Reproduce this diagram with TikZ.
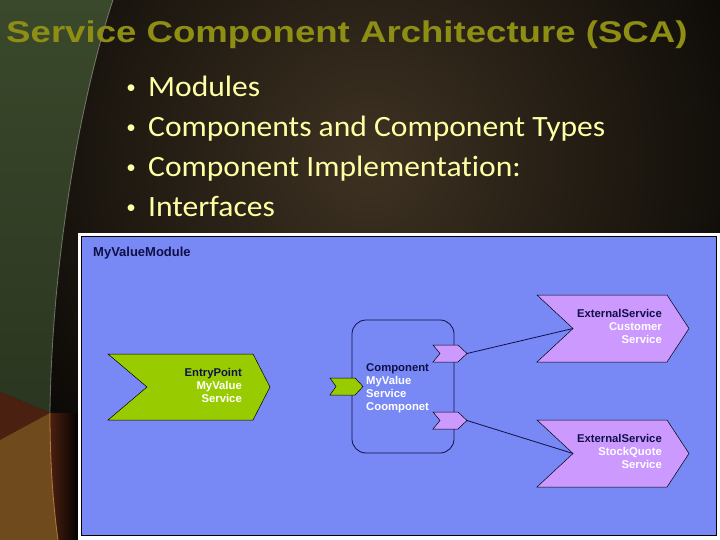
\documentclass[tikz,border=0pt]{standalone}
\usepackage{fontspec}
\setmainfont{Liberation Sans}
\newfontfamily\slidefont[Ligatures=NoCommon]{Carlito}
\usepackage{tikz}
\usepackage{xcolor}
\usetikzlibrary{positioning}

\definecolor{titleolive}{HTML}{8E8E14}
\definecolor{itemyellow}{HTML}{FFFFA3}
\definecolor{modblue}{HTML}{7888F4}
\definecolor{epgreen}{HTML}{99CC00}
\definecolor{refpurple}{HTML}{CC99FF}
\definecolor{navy}{HTML}{101048}
\definecolor{glowbrown}{HTML}{3E3222}
\definecolor{leftgreen}{HTML}{3A482B}
\definecolor{leftgreendark}{HTML}{2B3620}
\definecolor{rustbrown}{HTML}{4A2010}
\definecolor{ochre}{HTML}{6E4A1C}

% chevron: name, left x, top y, width, height, notch depth, tip depth, fill
\newcommand{\chevron}[8]{%
  \filldraw[fill=#8, draw=black, line width=0.5pt] (#2,#3) -- ++(#4-#7,0)
    -- ++(#7,#5/2) -- ++(-#7,#5/2) -- ++(#7-#4,0) -- ++(#6,-#5/2) -- cycle;
  \coordinate (#1-notch) at (#2+#6,#3+#5/2);
  \coordinate (#1-tip) at (#2+#4,#3+#5/2);}

\begin{document}
\begin{tikzpicture}[x=1pt, y=-1pt,
    slidetitle/.style={anchor=base west, inner sep=0pt, text=titleolive, font=\fontsize{30}{30}\selectfont\bfseries, xscale=1.22},
    itemdot/.style={anchor=base, inner sep=0pt, text=itemyellow, font=\slidefont\fontsize{19}{20}\selectfont},
    bulletitem/.style={anchor=base west, inner sep=0pt, text=itemyellow, font=\slidefont\fontsize{29.5}{30}\selectfont, xscale=1.07},
    modlabel/.style={anchor=base west, inner sep=0pt, text=navy, font=\fontsize{13}{15}\selectfont\bfseries},
    boxtext/.style={inner sep=0pt, text=navy, font=\fontsize{11.3}{13.3}\selectfont\bfseries},
    comp/.style={draw=navy, line width=0.8pt, rounded corners=14pt, minimum width=102pt, minimum height=133pt},
    conn/.style={draw=navy, line width=0.8pt}]

    \useasboundingbox (0,0) rectangle (720,540);
    \clip (0,0) rectangle (720,540);

    % slide background
    \fill[black] (0,0) rectangle (720,540);
    \shade[inner color=glowbrown, outer color=black] (370,160) circle (500);
    \shade[top color=leftgreen, bottom color=leftgreendark]
        (0,0) -- (113,0) .. controls (80,100) and (52,260) .. (50,413) -- (0,392) -- cycle;
    \fill[rustbrown] (0,392) -- (50,413) -- (0,440) -- cycle;
    \fill[ochre] (0,440) -- (50,413) .. controls (50,470) and (54,510) .. (58,540) -- (0,540) -- cycle;
    \shade[left color=rustbrown, right color=black]
        (50,413) .. controls (50,470) and (54,510) .. (58,540) -- (80,540) -- (80,413) -- cycle;
    \draw[white, opacity=0.35, line width=0.8pt]
        (113,0) .. controls (80,100) and (52,260) .. (50,413);
    \draw[orange!60!white, opacity=0.6, line width=0.8pt]
        (50,413) .. controls (50,470) and (54,510) .. (58,540);

    % title and bullets
    \node[slidetitle] (title) at (6,43) {Service Component Architecture (SCA)};

    \node[itemdot] (d1) at (131,94) {\textbullet};
    \node[itemdot] (d2) at (131,134) {\textbullet};
    \node[itemdot] (d3) at (131,174) {\textbullet};
    \node[itemdot] (d4) at (131,214) {\textbullet};
    \node[bulletitem] (i1) at (148,97) {Modules};
    \node[bulletitem] (i2) at (148,137) {Components and Component Types};
    \node[bulletitem] (i3) at (148,177) {Component Implementation:};
    \node[bulletitem] (i4) at (148,217) {Interfaces};

    % module
    \fill[white] (78,233) rectangle (722,542);
    \filldraw[fill=modblue, draw=black, line width=1.2pt] (81.5,236.5) rectangle (716.5,535.5);
    \node[modlabel] (module) at (93,256) {MyValueModule};

    \node[comp] (comp) at (403,386.5) {};

    \chevron{entry}{108}{354}{162}{66}{39}{17}{epgreen}
    \chevron{svc}{330}{378}{33}{17}{6}{8}{epgreen}
    \chevron{refcust}{433}{345}{34}{17}{7}{9}{refpurple}
    \chevron{refquote}{433}{412}{34}{17}{7}{9}{refpurple}
    \chevron{cust}{537}{295}{152}{67}{36}{22}{refpurple}
    \chevron{quote}{537}{420}{152}{67}{36}{22}{refpurple}

    \node[boxtext, align=right, anchor=north east] (entrytext) at (242,368)
        {EntryPoint\\\textcolor{white}{MyValue}\\\textcolor{white}{Service}};
    \node[boxtext, align=left, anchor=north west] (comptext) at (366,363)
        {Component\\\textcolor{white}{MyValue}\\\textcolor{white}{Service}\\\textcolor{white}{Coomponet}};
    \node[boxtext, align=right, anchor=north east] (custtext) at (662,309)
        {ExternalService\\\textcolor{white}{Customer}\\\textcolor{white}{Service}};
    \node[boxtext, align=right, anchor=north east] (quotetext) at (662,434)
        {ExternalService\\\textcolor{white}{StockQuote}\\\textcolor{white}{Service}};

    \draw[conn] (refcust-tip) -- (cust-notch);
    \draw[conn] (refquote-tip) -- (quote-notch);
\end{tikzpicture}
\end{document}
